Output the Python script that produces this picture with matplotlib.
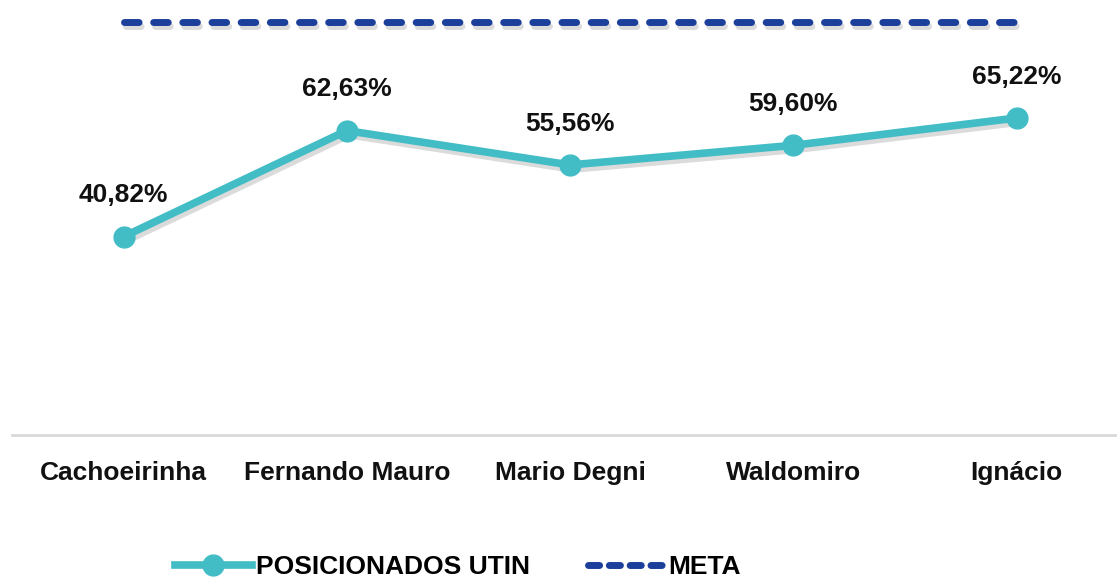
import matplotlib
matplotlib.use("Agg")
import matplotlib.pyplot as plt
import matplotlib.patheffects as pe
from matplotlib.lines import Line2D

plt.rcParams['font.family'] = ['Liberation Sans Narrow', 'Liberation Sans', 'DejaVu Sans']

categories = ['Cachoeirinha', 'Fernando Mauro', 'Mario Degni', 'Waldomiro', 'Ignácio']
posicionados = [40.82, 62.63, 55.56, 59.60, 65.22]
meta = [85, 85, 85, 85, 85]

teal = '#42BDC6'
navy = '#1B3F9A'

fig = plt.figure(figsize=(11.17, 5.82), dpi=100)
ax = fig.add_axes([12 / 1117, 147 / 582, 1 - 12 / 1117, 435 / 582])

x = range(len(categories))
shadow = [pe.SimpleLineShadow(offset=(1.5, -3), shadow_color='#888888', alpha=0.3), pe.Normal()]

ax.plot(x, meta, color=navy, lw=5, dashes=(2.1, 2.1), dash_capstyle='round',
        path_effects=shadow, zorder=2)
ax.plot(x, posicionados, color=teal, lw=5.5, solid_capstyle='round',
        path_effects=shadow, zorder=3)
ax.plot(x, posicionados, ls='none', marker='o', ms=15, color=teal, zorder=4)

for i, v in enumerate(posicionados):
    ax.annotate(f'{v:.2f}%'.replace('.', ','), (i, v), xytext=(0, 21), textcoords='offset points',
                ha='center', va='bottom', fontsize=19, fontweight='bold', color='#111111')

ax.set_xlim(-0.5, 4.45)
ax.set_ylim(0, 89.5)
ax.set_yticks([])
ax.set_xticks(list(x))
ax.set_xticklabels(categories, fontsize=19, fontweight='bold', color='#111111')
ax.tick_params(axis='x', length=0, pad=19)
for s in ['top', 'right', 'left']:
    ax.spines[s].set_visible(False)
ax.spines['bottom'].set_color('#D9D9D9')
ax.spines['bottom'].set_linewidth(2)

handles = [
    Line2D([], [], color=teal, lw=5.5, marker='o', ms=15),
    Line2D([], [], color=navy, lw=5, dashes=(1.6, 1.4), dash_capstyle='round'),
]
fig.legend(handles, ['POSICIONADOS UTIN', 'META'], loc='center', bbox_to_anchor=(0.41, 0.025),
           ncol=2, frameon=False, handlelength=2.9, handletextpad=0.15, columnspacing=2.2,
           prop={'size': 19, 'weight': 'bold'})

fig.savefig('out.png', dpi=100)
